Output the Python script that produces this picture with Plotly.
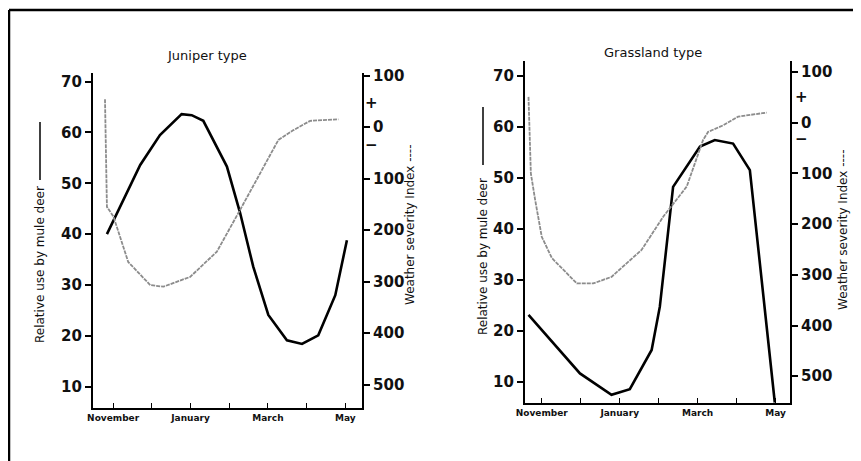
import plotly.graph_objects as go

# The page body adds an 8px margin; the figure is sized to fit the window.
OFF = 8
W, H = 861 - OFF, 461 - OFF

# ---- data (month index: 0 = November ... 6 = May) ----
month_ticks = [0, 1, 2, 3, 4, 5, 6]
month_labels = ["November", "", "January", "", "March", "", "May"]

use_ticks = [10, 20, 30, 40, 50, 60, 70]
sev_ticks = [-100, 0, 100, 200, 300, 400, 500]
sev_labels = ["100", "0", "100", "200", "300", "400", "500"]

juniper_use_x = [-0.16, 0.70, 1.21, 1.77, 2.03, 2.33, 2.94, 3.28, 3.62, 4.01, 4.49, 4.88, 5.30, 5.74, 6.04]
juniper_use = [40.0, 53.6, 59.5, 63.6, 63.4, 62.3, 53.3, 44.2, 33.6, 24.1, 19.1, 18.4, 20.1, 28.0, 38.8]

juniper_sev_x = [-0.21, -0.16, 0.01, 0.39, 0.96, 1.30, 1.99, 2.68, 3.28, 3.80, 4.27, 4.66, 5.09, 5.82]
juniper_sev = [-54, 155, 174, 262, 307, 310, 291, 242, 161, 89, 25, 6, -12, -15]

grass_use_x = [-0.34, 0.30, 0.98, 1.79, 2.26, 2.82, 3.03, 3.37, 4.06, 4.44, 4.91, 5.34, 5.98]
grass_use = [23.1, 17.5, 11.6, 7.4, 8.5, 16.2, 24.7, 48.2, 56.1, 57.4, 56.7, 51.5, 5.9]

grass_sev_x = [-0.34, -0.28, -0.17, 0.0, 0.26, 0.90, 1.32, 1.79, 2.56, 3.12, 3.72, 4.14, 4.27, 4.66, 5.04, 5.77]
grass_sev = [-51, 100, 152, 225, 267, 317, 317, 304, 251, 185, 126, 34, 18, 5, -12, -20]

FONT = "DejaVu Sans"

def px(x):
    return (x - OFF) / W

def py(y):
    return 1 - (y - OFF) / H

fig = go.Figure()

solid = dict(color="black", width=2.6)
dotted = dict(color="#8c8c8c", width=1.8, dash="4px,1px")

fig.add_trace(go.Scatter(x=juniper_use_x, y=juniper_use, mode="lines", line=solid, xaxis="x", yaxis="y"))
fig.add_trace(go.Scatter(x=juniper_sev_x, y=juniper_sev, mode="lines", line=dotted, xaxis="x", yaxis="y2"))
fig.add_trace(go.Scatter(x=grass_use_x, y=grass_use, mode="lines", line=solid, xaxis="x2", yaxis="y3"))
fig.add_trace(go.Scatter(x=grass_sev_x, y=grass_sev, mode="lines", line=dotted, xaxis="x2", yaxis="y4"))

tickfont_big = dict(family=FONT, size=15, color="#111", weight="bold")
tickfont_month = dict(family=FONT, size=9, color="#111", weight="bold")

def xaxis_cfg(domain, rng, anchor):
    return dict(domain=domain, range=rng, anchor=anchor, showgrid=False, zeroline=False,
                automargin=False, showline=True, linecolor="black", linewidth=2.2,
                tickvals=month_ticks, ticktext=month_labels, ticks="inside", ticklen=5,
                tickwidth=1.2, tickcolor="black", tickfont=tickfont_month)

def yleft_cfg(domain, rng, anchor):
    return dict(domain=domain, range=rng, anchor=anchor, showgrid=False, zeroline=False,
                automargin=False, showline=True, linecolor="black", linewidth=2.2,
                tickvals=use_ticks, ticks="outside", ticklen=6, tickwidth=1.6,
                tickcolor="black", tickfont=tickfont_big)

def yright_cfg(rng, anchor, overlay):
    return dict(range=rng, anchor=anchor, overlaying=overlay, side="right", showgrid=False,
                automargin=False, zeroline=False, showline=True, linecolor="black", linewidth=2.2,
                tickvals=sev_ticks, ticktext=sev_labels, ticks="outside", ticklen=6,
                tickwidth=1.6, tickcolor="black", tickfont=tickfont_big)

# Left panel geometry (window pixels)
L_x0, L_x1, L_yb, L_yt = 93, 362, 408, 73
# Right panel geometry
R_x0, R_x1, R_yb, R_yt = 525, 790, 403, 61

fig.update_layout(
    template="none",
    width=W, height=H, margin=dict(l=0, r=0, t=0, b=0, pad=0), autosize=False,
    paper_bgcolor="white", plot_bgcolor="white", showlegend=False,
    xaxis=xaxis_cfg([px(L_x0), px(L_x1)], [-0.52, 6.43], "y"),
    yaxis=yleft_cfg([py(L_yb), py(L_yt)], [5.8, 71.7], "x"),
    yaxis2=yright_cfg([545.6, -104.9], "x", "y"),
    xaxis2=xaxis_cfg([px(R_x0), px(R_x1)], [-0.43, 6.37], "y3"),
    yaxis3=yleft_cfg([py(R_yb), py(R_yt)], [5.8, 72.9], "x2"),
    yaxis4=yright_cfg([552.8, -121.7], "x2", "y3"),
)

ann = []
def A(**kw):
    base = dict(xref="paper", yref="paper", showarrow=False, xanchor="center", yanchor="middle")
    base.update(kw)
    ann.append(base)

# Titles
A(text="Juniper type", x=px(207), y=py(56), font=dict(family=FONT, size=13, color="#111"))
A(text="Grassland type", x=px(653), y=py(52), font=dict(family=FONT, size=13, color="#111"))
# Axis titles (rotated)
lab_font = dict(family=FONT, size=12, color="#111")
A(text="Relative use by mule deer", x=px(40), y=py(265), textangle=-90, font=lab_font)
A(text="Relative use by mule deer", x=px(483), y=py(257), textangle=-90, font=lab_font)
A(text="Weather severity Index ----", x=px(410), y=py(225), textangle=-90, font=lab_font)
A(text="Weather severity Index ----", x=px(843), y=py(230), textangle=-90, font=lab_font)
# + and - markers on the severity axes
pm_font = dict(family=FONT, size=15, color="#111", weight="bold")
A(text="+", x=px(371), y=-47, yref="y2", font=pm_font)
A(text="\u2212", x=px(371), y=35, yref="y2", font=pm_font)
A(text="+", x=px(801), y=-51, yref="y4", font=pm_font)
A(text="\u2212", x=px(801), y=32, yref="y4", font=pm_font)
fig.update_layout(annotations=ann)

# Solid-line legend marks after "mule deer"
for (x, y0, y1) in [(40, 122, 180), (483, 107, 165)]:
    fig.add_shape(type="line", xref="paper", yref="paper", x0=px(x), x1=px(x), y0=py(y0), y1=py(y1),
                  line=dict(color="black", width=1.5))

# Outer frame (left and top edges visible)
fig.add_shape(type="line", xref="paper", yref="paper", x0=px(9), x1=px(9), y0=0, y1=py(10),
              line=dict(color="black", width=2.5))
fig.add_shape(type="line", xref="paper", yref="paper", x0=px(9), x1=1, y0=py(10), y1=py(10),
              line=dict(color="black", width=2.5))

fig.write_html("out.html")
